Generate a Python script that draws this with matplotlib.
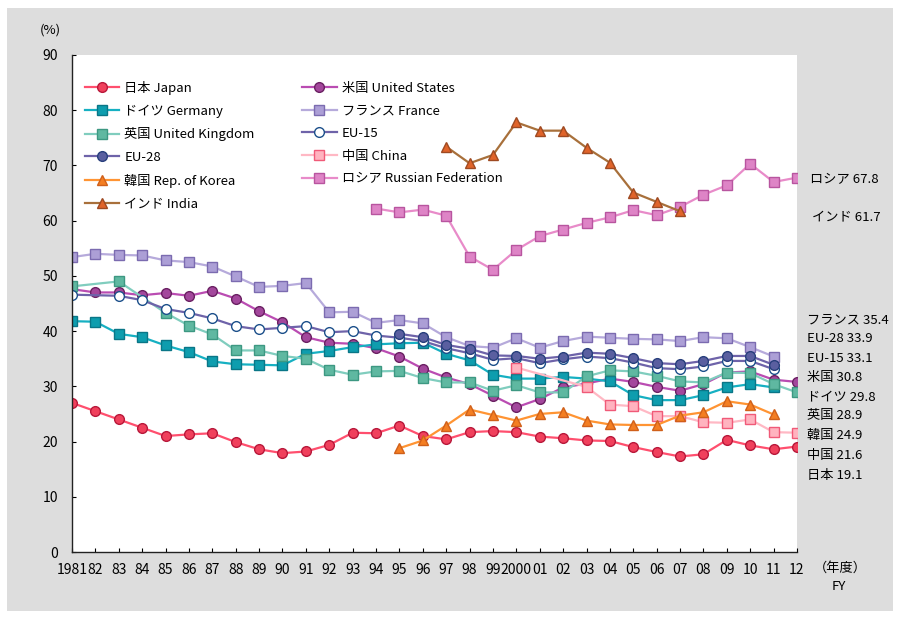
import numpy as np
import matplotlib
matplotlib.use("Agg")
import matplotlib.pyplot as plt
from matplotlib.patches import Rectangle

plt.rcParams['font.family'] = ['Noto Sans CJK JP', 'DejaVu Sans']

nan = np.nan
years = list(range(1981, 2013))
year_labels = ["1981", "82", "83", "84", "85", "86", "87", "88", "89", "90", "91", "92",
               "93", "94", "95", "96", "97", "98", "99", "2000", "01", "02", "03", "04",
               "05", "06", "07", "08", "09", "10", "11", "12"]

japan = [27.0, 25.5, 24.0, 22.5, 21.0, 21.3, 21.5, 19.9, 18.6, 17.9,
         18.2, 19.4, 21.6, 21.5, 22.9, 21.0, 20.4, 21.7, 21.9, 21.7,
         20.9, 20.6, 20.2, 20.1, 19.0, 18.1, 17.3, 17.7, 20.3, 19.3,
         18.6, 19.1]
us = [47.6, 47.0, 47.0, 46.5, 46.9, 46.4, 47.3, 45.9, 43.6, 41.6,
      38.9, 37.9, 37.7, 36.9, 35.4, 33.2, 31.6, 30.4, 28.3, 26.2,
      27.7, 29.8, 30.5, 31.4, 30.8, 29.9, 29.2, 30.4, 32.5, 32.7,
      31.2, 30.8]
germany = [41.8, 41.7, 39.5, 38.9, 37.4, 36.2, 34.5, 34.0, 33.9, 33.8,
           35.9, 36.4, 37.1, 37.6, 37.8, 37.9, 35.9, 34.7, 32.1, 31.4,
           31.4, 31.7, 31.4, 30.9, 28.4, 27.5, 27.5, 28.4, 29.8, 30.4,
           29.8, nan]
france = [53.4, 54.0, 53.8, 53.7, 52.8, 52.5, 51.7, 49.9, 48.0, 48.2,
          48.7, 43.4, 43.5, 41.5, 42.0, 41.4, 38.9, 37.3, 37.0, 38.7,
          37.0, 38.2, 39.0, 38.8, 38.6, 38.5, 38.2, 38.9, 38.7, 37.1,
          35.4, nan]
uk = [48.1, nan, 49.0, nan, 43.3, 41.0, 39.4, 36.5, 36.5, 35.5,
      35.0, 33.0, 32.1, 32.7, 32.8, 31.5, 30.7, 30.7, 29.2, 30.2,
      28.9, 28.9, 31.8, 32.9, 32.7, 31.9, 30.9, 30.7, 32.5, 32.4,
      30.4, 28.9]
eu15 = [46.6, nan, 46.4, 45.6, 44.0, 43.3, 42.3, 40.9, 40.3, 40.6,
        40.9, 39.8, 40.0, 39.2, 38.8, 38.2, 36.9, 36.0, 34.8, 35.1,
        34.2, 34.9, 35.4, 35.1, 34.3, 33.3, 33.1, 33.6, 34.6, 34.6,
        33.1, nan]
eu28 = [nan, nan, nan, nan, nan, nan, nan, nan, nan, nan,
        nan, nan, nan, nan, 39.5, 38.9, 37.5, 36.8, 35.6, 35.5,
        35.0, 35.4, 36.1, 35.9, 35.1, 34.2, 34.0, 34.6, 35.5, 35.5,
        33.9, nan]
china = [nan] * 19 + [33.4, nan, nan, 29.9, 26.7, 26.4, 24.6, 24.6, 23.5, 23.4, 24.0, 21.7, 21.6]
korea = [nan] * 14 + [18.8, 20.2, 22.9, 25.8, 24.8, 23.8, 25.0, 25.3, 23.8, 23.1,
                      23.0, 23.0, 24.7, 25.3, 27.3, 26.7, 24.9, nan]
russia = [nan] * 13 + [62.2, 61.5, 62.0, 60.9, 53.5, 51.1, 54.7, 57.2, 58.4, 59.6,
                       60.6, 61.9, 61.0, 62.5, 64.7, 66.4, 70.3, 67.0, 67.8]
india = [nan] * 16 + [73.4, 70.4, 71.9, 77.8, 76.3, 76.3, 73.2, 70.5, 65.1, 63.4,
                      61.7, nan, nan, nan, nan, nan]

names = ["日本 Japan", "米国 United States", "ドイツ Germany", "フランス France",
         "英国 United Kingdom", "EU-15", "EU-28", "中国 China",
         "韓国 Rep. of Korea", "ロシア Russian Federation", "インド India"]
series = [japan, us, germany, france, uk, eu15, eu28, china, korea, russia, india]

# style: (line color, marker, face, edge)
styles = [
    ("#FF4F6E", "o", "#F0405C", "#B8183A"),
    ("#BA4CB2", "o", "#A3479C", "#6A2062"),
    ("#16B0C2", "s", "#0E9DAE", "#0A7687"),
    ("#B6AADB", "s", "#AC9FD6", "#7B6BB0"),
    ("#80CDBE", "s", "#5FB8A1", "#3D9882"),
    ("#6E63A9", "o", "#FFFFFF", "#1B4F8A"),
    ("#6E63A9", "o", "#5A5FA0", "#283F7C"),
    ("#FFB8C4", "s", "#FFB3BF", "#F05A78"),
    ("#FF9433", "^", "#F47E22", "#D0601A"),
    ("#E88BC9", "s", "#DE84C6", "#B8559F"),
    ("#A8703B", "^", "#E0642A", "#9E4A22"),
]

right_labels = [("ロシア", "67.8"), ("インド", "61.7"), ("フランス", "35.4"),
                ("EU-28", "33.9"), ("EU-15", "33.1"), ("米国", "30.8"),
                ("ドイツ", "29.8"), ("英国", "28.9"), ("韓国", "24.9"),
                ("中国", "21.6"), ("日本", "19.1")]
right_label_px = [(810, 180), (812, 217), (807, 320), (807, 339), (807, 358),
                  (807, 377), (807, 397), (807, 416), (807, 435), (807, 455), (807, 475)]

W, H = 900, 619
fig = plt.figure(figsize=(9, 6.19), dpi=100)
fig.patch.set_facecolor("white")
fig.patches.append(Rectangle((7 / W, 1 - 611 / H), (893 - 7) / W, (611 - 8) / H,
                             transform=fig.transFigure, facecolor="#DDDDDD",
                             edgecolor="none", zorder=-10))

ax = fig.add_axes([72 / W, 1 - 552 / H, (797 - 72) / W, (552 - 55) / H])
ax.set_facecolor("white")

handles = {}
x = np.array(years)
for name, data, (lc, mk, fc, ec) in zip(names, series, styles):
    d = np.array(data, dtype=float)
    m = ~np.isnan(d)
    ms = 7.5 if mk == "^" else 7
    h, = ax.plot(x[m], d[m], color=lc, lw=1.6, marker=mk, markersize=ms,
                 markerfacecolor=fc, markeredgecolor=ec, markeredgewidth=1.0,
                 label=name)
    handles[name] = h

ax.set_xlim(1981, 2012)
ax.set_ylim(0, 90)
ax.set_yticks(range(0, 91, 10))
ax.set_xticks(years)
ax.set_xticklabels(year_labels)
ax.tick_params(axis="both", direction="in", length=3, width=0.8, labelsize=10,
               colors="black")
ax.tick_params(axis="x", pad=8)
ax.tick_params(axis="y", pad=10)
for s in ["top", "right"]:
    ax.spines[s].set_visible(False)
for s in ["left", "bottom"]:
    ax.spines[s].set_color("#222222")
    ax.spines[s].set_linewidth(1.0)

order = [0, 2, 4, 6, 8, 10, 1, 3, 5, 7, 9]
leg = ax.legend([handles[names[i]] for i in order], [names[i] for i in order],
                ncol=2, loc="upper left", bbox_to_anchor=(0.005, 0.967),
                frameon=False, fontsize=9.5, handlelength=2.6, handletextpad=0.4,
                labelspacing=0.73, columnspacing=3.6, borderaxespad=0.3)

fig.text(50 / W, 1 - 30 / H, "(%)", fontsize=9.5, ha="center", va="center")
fig.text(840 / W, 1 - 568 / H, "（年度）", fontsize=9.5, ha="center", va="center")
fig.text(839 / W, 1 - 586 / H, "FY", fontsize=9.5, ha="center", va="center")

for (nm, val), (px, py) in zip(right_labels, right_label_px):
    fig.text(px / W, 1 - py / H, f"{nm} {val}", fontsize=9.5, ha="left", va="center")

fig.savefig("out.png", dpi=100, facecolor=fig.get_facecolor())
